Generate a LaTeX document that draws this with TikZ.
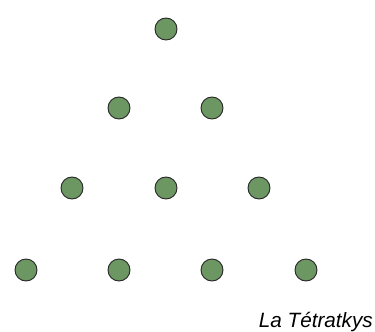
\documentclass[tikz,border=0pt]{standalone}
\usepackage{fontspec}
\setmainfont{Liberation Sans}
\definecolor{dotgreen}{RGB}{108,150,98}
\begin{document}
\begin{tikzpicture}[x=1pt,y=-1pt,
  pebble/.style={circle,draw=black!85,line width=0.9pt,fill=dotgreen,minimum size=22pt,inner sep=0pt}]
\useasboundingbox (0,0) rectangle (375,332);
\node[pebble] (a1) at (166,29) {};
\node[pebble] (b1) at (119,108) {};
\node[pebble] (b2) at (212,108) {};
\node[pebble] (c1) at (72,188) {};
\node[pebble] (c2) at (166,188) {};
\node[pebble] (c3) at (259,188) {};
\node[pebble] (d1) at (26,270) {};
\node[pebble] (d2) at (119,270) {};
\node[pebble] (d3) at (212,270) {};
\node[pebble] (d4) at (306,270) {};
\node[anchor=base east,inner sep=0pt,font=\fontsize{20.7}{24}\selectfont\itshape] (cap) at (373,327) {La Tétratkys};
\end{tikzpicture}
\end{document}
